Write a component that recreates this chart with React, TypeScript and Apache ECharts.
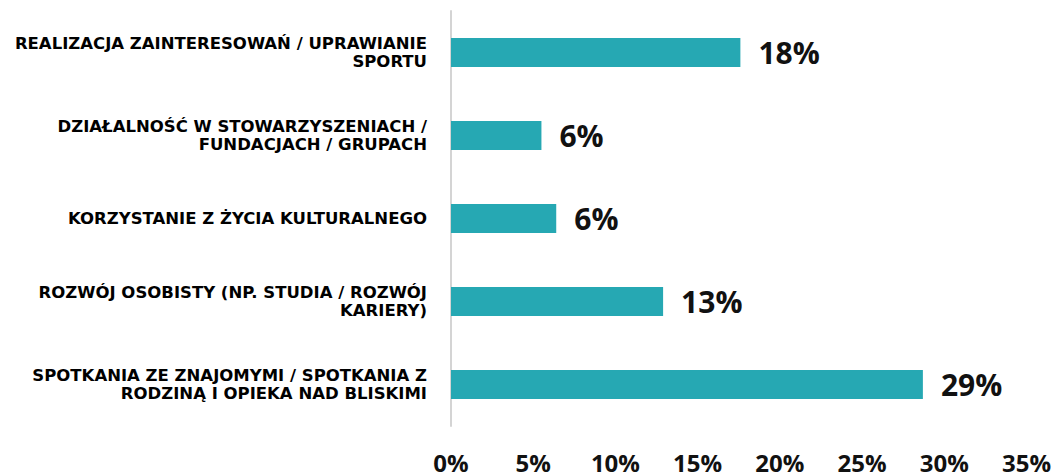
import React, { useEffect, useRef } from "react";
import * as echarts from "echarts";

const categories = [
  "REALIZACJA ZAINTERESOWAŃ / UPRAWIANIE\nSPORTU",
  "DZIAŁALNOŚĆ W STOWARZYSZENIACH /\nFUNDACJACH / GRUPACH",
  "KORZYSTANIE Z ŻYCIA KULTURALNEGO",
  "ROZWÓJ OSOBISTY (NP. STUDIA / ROZWÓJ\nKARIERY)",
  "SPOTKANIA ZE ZNAJOMYMI / SPOTKANIA Z\nRODZINĄ I OPIEKA NAD BLISKIMI",
];
const values = [17.6, 5.5, 6.4, 12.9, 28.7];
const valueLabels = ["18%", "6%", "6%", "13%", "29%"];
const xTicks = [0, 5, 10, 15, 20, 25, 30, 35];

export default function App() {
  const ref = useRef<HTMLDivElement>(null);
  useEffect(() => {
    document.body.style.margin = "0";
    const chart = echarts.init(ref.current!, null, { renderer: "svg" });
    chart.setOption({
      animation: false,
      grid: { left: 451, right: 27, top: 11, bottom: 49, containLabel: false },
      xAxis: {
        type: "value",
        min: xTicks[0],
        max: xTicks[xTicks.length - 1],
        interval: 5,
        splitLine: { show: false },
        axisLine: { show: false },
        axisTick: { show: false },
        axisLabel: {
          margin: 26,
          formatter: (v: number) => `${v}%`,
          color: "#111",
          fontFamily: "Open Sans",
          fontWeight: 700,
          fontSize: 24,
          lineHeight: 21,
        },
      },
      yAxis: {
        type: "category",
        inverse: true,
        data: categories,
        axisLine: { show: true, lineStyle: { color: "#d4d4d4", width: 2 } },
        axisTick: { show: false },
        axisLabel: {
          margin: 24,
          color: "#000",
          fontFamily: "DejaVu Sans",
          fontWeight: 700,
          fontSize: 16.5,
          lineHeight: 18,
          align: "right",
        },
      },
      series: [
        {
          type: "bar",
          data: values,
          barWidth: 29,
          itemStyle: { color: "#26A8B3" },
          label: {
            show: true,
            position: "right",
            distance: 18,
            formatter: (p: any) => valueLabels[p.dataIndex],
            color: "#111",
            fontFamily: "Open Sans",
            fontWeight: 700,
            fontSize: 30,
          },
        },
      ],
    });
    return () => chart.dispose();
  }, []);
  return <div ref={ref} style={{ width: 1054, height: 475 }} />;
}
